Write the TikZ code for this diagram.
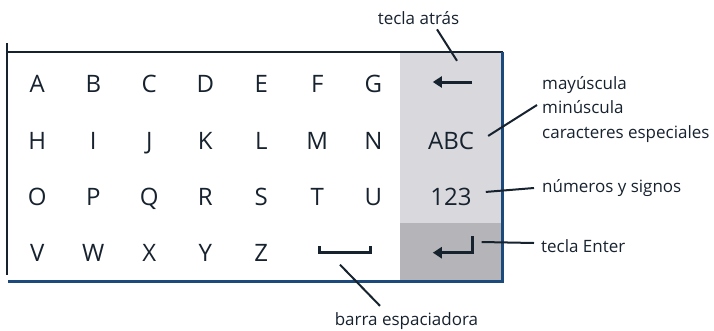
\documentclass[tikz,border=0pt]{standalone}
\usepackage{fontspec}
\setmainfont{Open Sans}
\usetikzlibrary{calc,arrows.meta}
\definecolor{ink}{HTML}{17222F}
\definecolor{frameblue}{HTML}{1D4A7C}
\definecolor{panel}{HTML}{D8D8DD}
\definecolor{paneldark}{HTML}{B5B5B9}
\begin{document}
\begin{tikzpicture}[x=1pt,y=-1pt,
  key/.style={text=ink,font=\fontsize{24}{24}\selectfont,inner sep=0pt,anchor=base},
  lbl/.style={text=ink,font=\fontsize{17}{24.5}\selectfont,inner sep=0pt},
  slot/.style={inner sep=0pt,minimum width=#1,minimum height=16pt},
  conn/.style={draw=ink,line width=2pt},
  glyph/.style={draw=ink,line width=3pt},
  ]
\useasboundingbox (0,0) rectangle (714,330);
% panel
\fill[panel] (400,52) rectangle (503,223);
\fill[paneldark] (400,223) rectangle (503,281.5);
% frame
\draw[ink,line width=2pt] (7,43) -- (7,275);
\draw[ink,line width=2pt] (6,52) -- (503,52);
\draw[frameblue,line width=3pt] (502.5,52) -- (502.5,281.5) -- (8,281.5);
% letter keys
\foreach \t [count=\i from 0] in {A,B,C,D,E,F,G}
  \node[key] (k\t) at ({37.3+56*\i},92) {\t};
\foreach \t [count=\i from 0] in {H,I,J,K,L,M,N}
  \node[key] (k\t) at ({37.3+56*\i},149) {\t};
\foreach \t [count=\i from 0] in {O,P,Q,R,S,T,U}
  \node[key] (k\t) at ({37.3+56*\i},205) {\t};
\foreach \t [count=\i from 0] in {V,W,X,Y,Z}
  \node[key] (k\t) at ({37.3+56*\i},261) {\t};
\node[key] (kabc) at (451,149) {ABC};
\node[key] (knum) at (451,205) {123};
% glyph keys
\node[slot=39pt] (kback) at (452.5,82) {};
\draw[glyph,-{Triangle[length=9pt,width=11pt]}] (kback.east) -- (kback.west);
\node[slot=39pt] (kenter) at (452.5,244.5) {};
\draw[glyph,-{Triangle[length=9pt,width=11pt]}] (kenter.north east) -- (kenter.south east) -- (kenter.south west);
\node[inner sep=0pt,minimum width=51pt,minimum height=6pt] (kspace) at (345,249.5) {};
\draw[glyph] (kspace.north west) -- (kspace.south west) -- (kspace.south east) -- (kspace.north east);
% labels
\node[lbl,anchor=base] (latras) at (418.5,24) {tecla atrás};
\node[lbl,anchor=west,align=left] (lcase) at (542,109.5) {mayúscula\\minúscula\\caracteres especiales};
\node[lbl,anchor=base west] (lnum) at (542,192) {números y signos};
\node[lbl,anchor=base west] (lenter) at (541,252) {tecla Enter};
\node[lbl,anchor=base] (lspace) at (406.5,325) {barra espaciadora};
% connectors
\draw[conn] ($(latras.south)+(18.5,5)$) -- ($(kback.north)+(4.5,-13)$);
\draw[conn] ($(kabc.east)+(14,-4.5)$) -- ($(lcase.west)+(-5,-4.5)$);
\draw[conn] ($(knum.east)+(14,-4.5)$) -- ($(lnum.base west)+(-8,-4)$);
\draw[conn] ($(kenter.east)+(9.5,-2.5)$) -- ($(lenter.base west)+(-7,-9)$);
\draw[conn] ($(kspace.south)+(-5,12)$) -- ($(lspace.north)+(-26.5,-6)$);
\end{tikzpicture}
\end{document}
